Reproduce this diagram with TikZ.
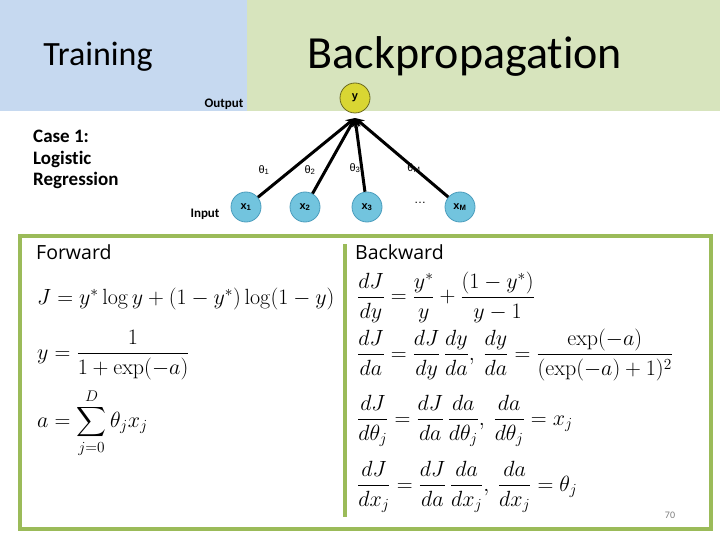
\RequirePackage{fix-cm}
\documentclass[tikz,border=0pt]{standalone}
\usepackage{amsmath}
\usepackage[no-math]{fontspec}
\setmainfont{Carlito}[Ligatures=NoCommon]
\newfontfamily\segoe{Open Sans}
\newfontfamily\lsans{Liberation Sans}
\usetikzlibrary{arrows.meta}
\definecolor{hblue}{HTML}{C6D9F0}
\definecolor{hgreen}{HTML}{D7E4BD}
\definecolor{bgreen}{HTML}{9BBB59}
\definecolor{ynode}{HTML}{D9D633}
\definecolor{ynodeb}{HTML}{6B6A20}
\definecolor{xnode}{HTML}{72C4DE}
\definecolor{xnodeb}{HTML}{4B9DBD}
\begin{document}
\begin{tikzpicture}[x=1pt,y=-1pt,
  ynodestyle/.style={circle,fill=ynode,draw=ynodeb,line width=0.8pt,minimum size=30pt,inner sep=0pt,font=\lsans\bfseries\fontsize{11}{11}\selectfont},
  xnodestyle/.style={circle,fill=xnode,draw=xnodeb,line width=0.8pt,minimum size=30pt,inner sep=0pt,font=\lsans\bfseries\fontsize{11}{11}\selectfont},
  wedge/.style={line width=3pt,-{Stealth[length=9pt,width=9pt]}},
  thlabel/.style={font=\lsans\fontsize{11}{11}\selectfont},
  eqn/.style={anchor=west,inner sep=0pt,font=\fontsize{22}{26}\selectfont},
  hdr/.style={anchor=west,inner sep=0pt,font=\segoe\fontsize{19.5}{22}\selectfont}]
\useasboundingbox (0,0) rectangle (720,540);
\fill[white] (0,0) rectangle (720,540);
\fill[hblue] (0,0) rectangle (247,111);
\fill[hgreen] (247,0) rectangle (720,111);
\node[font=\fontsize{34}{36}\selectfont] (train) at (98,57) {Training};
\node[font=\fontsize{46}{48}\selectfont] (bp) at (465,56) {Backpropagation};
\node[font=\bfseries\fontsize{13}{13}\selectfont] (outl) at (224,104) {Output};
\node[font=\bfseries\fontsize{13}{13}\selectfont] (inl) at (205,214) {Input};
\node[anchor=north west,align=left,font=\bfseries\fontsize{19}{21.5}\selectfont,inner sep=0pt] (case) at (33,130) {Case 1:\\Logistic\\Regression};
\node[ynodestyle] (y) at (355,98) {y};
\coordinate (yin) at (355,118);
\node[xnodestyle] (x1) at (246,207) {x\textsubscript{1}};
\node[xnodestyle] (x2) at (305,207) {x\textsubscript{2}};
\node[xnodestyle] (x3) at (367,207) {x\textsubscript{3}};
\node[font=\lsans\fontsize{12}{12}\selectfont] (dots) at (420,203) {\dots};
\node[xnodestyle] (xM) at (460,207) {x\textsubscript{M}};
\foreach \n in {x1,x2,x3,xM} \draw[wedge] (\n) -- (yin);
\node[thlabel] (t1) at (264,170) {θ\textsubscript{1}};
\node[thlabel] (t2) at (310,170) {θ\textsubscript{2}};
\node[thlabel] (t3) at (355,168) {θ\textsubscript{3}};
\node[thlabel] (tM) at (414,168) {θ\textsubscript{M}};
\draw[bgreen,line width=4.5pt] (20,236) rectangle (711,529);
\draw[bgreen,line width=3.5pt] (345,244) -- (345,517);
\node[hdr] (fw) at (36,252) {Forward};
\node[hdr] (bw) at (355,252) {Backward};
\node[eqn] (e1) at (37,299) {$J = y^*\log y + (1-y^*)\log(1-y)$};
\node[eqn] (e2) at (37,355) {$y = \dfrac{1}{1+\exp(-a)}$};
\node[eqn] (e3) at (37,423) {$a = \displaystyle\sum_{j=0}^{D}\theta_j x_j$};
\node[eqn] (b1) at (357,297) {$\dfrac{dJ}{dy} = \dfrac{y^*}{y} + \dfrac{(1-y^*)}{y-1}$};
\node[eqn] (b2) at (357,355) {$\dfrac{dJ}{da} = \dfrac{dJ}{dy}\,\dfrac{dy}{da},\ \dfrac{dy}{da} = \dfrac{\exp(-a)}{(\exp(-a)+1)^2}$};
\node[eqn] (b3) at (357,421) {$\dfrac{dJ}{d\theta_j} = \dfrac{dJ}{da}\,\dfrac{da}{d\theta_j},\ \dfrac{da}{d\theta_j} = x_j$};
\node[eqn] (b4) at (357,487) {$\dfrac{dJ}{dx_j} = \dfrac{dJ}{da}\,\dfrac{da}{dx_j},\ \dfrac{da}{dx_j} = \theta_j$};
\node[font=\fontsize{10}{10}\selectfont,text=gray] (pg) at (670,515) {70};
\end{tikzpicture}
\end{document}
